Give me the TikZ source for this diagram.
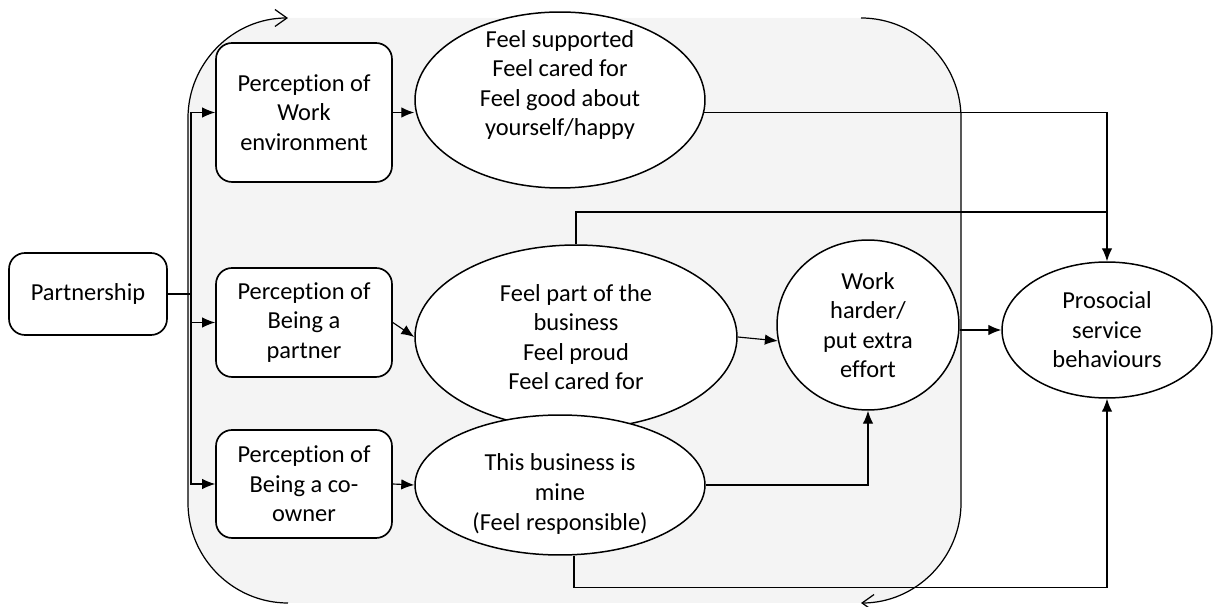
\documentclass[tikz,border=0pt]{standalone}
\usepackage{fontspec}
\setmainfont{Carlito}[Ligatures=NoCommon]
\usepackage{tikz}
\usetikzlibrary{arrows.meta, shapes.geometric}
\usepackage{xcolor}
\definecolor{loopfill}{RGB}{244, 244, 244}

\begin{document}
\begin{tikzpicture}[x=0.02cm, y=-0.02cm, font=\fontsize{13.9}{16.8}\selectfont,
  rbox/.style={draw, line width=0.95pt, rounded corners=0.32cm, fill=white, align=center, inner sep=0pt},
  ell/.style={ellipse, draw, line width=0.85pt, fill=white, align=center, inner sep=0pt},
  arr/.style={line width=0.65pt, -{Latex[length=2.6mm, width=2.1mm]}},
  cyc/.style={line width=0.7pt, -{Straight Barb[length=2.4mm, width=3.4mm]}}]
  \useasboundingbox (0,0) rectangle (1214,607);
  % grey loop behind the middle part
  \fill[loopfill, rounded corners=2cm] (188,18) rectangle (961,603);
  \draw[cyc] (288,603) .. controls (233,603) and (188,558) .. (188,503) -- (188,118)
    .. controls (188,63) and (233,18) .. (288,18);
  \draw[cyc] (861,18) .. controls (916,18) and (961,63) .. (961,118) -- (961,503)
    .. controls (961,558) and (916,603) .. (861,603);

  % boxes
  \node[rbox, minimum width=3.16cm, minimum height=1.64cm] (partn) at (88,294) {Partnership};
  \foreach \nm/\yy/\hh/\txt in {percwork/112.5/2.78/{Perception of\\Work\\environment},
      percpart/322.5/2.18/{Perception of\\Being a\\partner},
      percown/484/2.16/{Perception of\\Being a co-\\owner}} {
    \node[rbox, minimum width=3.52cm, minimum height=\hh cm] (\nm) at (304,\yy) {\txt};
  }

  % ellipses
  \node[ell, minimum width=5.8cm, minimum height=3.52cm] (feelsup) at (560,100) {};
  \node[align=center] (feelsuptxt) at (560,85) {Feel supported\\Feel cared for\\Feel good about\\yourself/happy};
  \node[ell, minimum width=6.44cm, minimum height=3.68cm] (feelpart) at (576,337)
    {Feel part of the\\business\\Feel proud\\Feel cared for};
  \node[ell, minimum width=5.8cm, minimum height=2.8cm] (feelmine) at (560,485) {};
  \node[align=center] (feelminetxt) at (560,494) {This business is\\mine\\(Feel responsible)};
  \node[ell, minimum width=3.64cm, minimum height=3.4cm] (harder) at (868,325)
    {Work\\harder/\\put extra\\effort};
  \node[ell, minimum width=4.2cm, minimum height=2.72cm] (prosoc) at (1107,330)
    {Prosocial\\service\\behaviours};

  % connectors
  \coordinate (trunk) at (191,294);
  \coordinate (joint) at (1107,212);
  \foreach \b in {percwork, percpart, percown} {
    \draw[arr] (partn.east) -- (trunk) |- (\b.west);
  }
  \draw[arr] (percwork.east) -- (percwork.east -| feelsup.west);
  \draw[arr] (percpart.east) -- (feelpart.west);
  \draw[arr] (percown.east) -- (feelmine.west);
  \draw[arr] (feelsup.-5) -| (prosoc.north);
  \draw[line width=0.65pt] (feelpart.north) |- (joint);
  \draw[arr] (feelpart.east) -- (harder.190);
  \draw[arr] (prosoc.west -| harder.east) -- (prosoc.west);
  \draw[arr] (feelmine.east) -| (harder.south);
  \draw[arr] ([xshift=2.8mm]feelmine.south) -- ++(0,32) -| (prosoc.south);
\end{tikzpicture}
\end{document}
